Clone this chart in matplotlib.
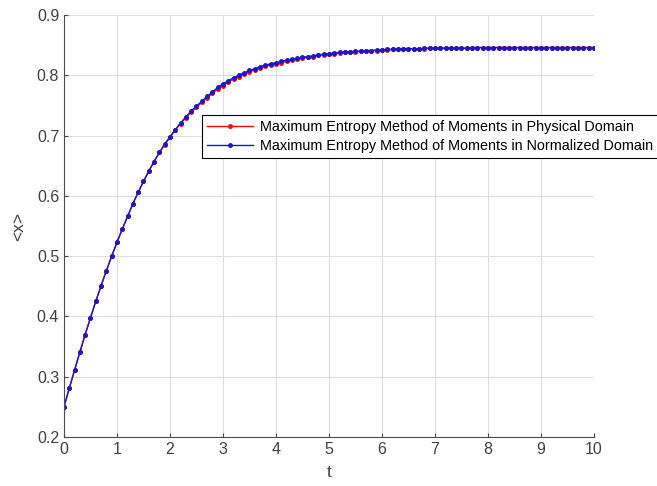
import numpy as np
import matplotlib
matplotlib.use('Agg')
import matplotlib.pyplot as plt

plt.rcParams['font.family'] = ['Liberation Sans', 'DejaVu Sans']

# time grid, step 0.1
t = np.round(np.arange(0, 10.01, 0.1), 1)

# <x> in normalized domain
x_norm = [
    0.250, 0.281, 0.311, 0.341, 0.370, 0.398, 0.425, 0.451, 0.476, 0.500,
    0.523, 0.545, 0.566, 0.587, 0.606, 0.624, 0.641, 0.657, 0.672, 0.686,
    0.698, 0.710, 0.721, 0.731, 0.741, 0.749, 0.757, 0.765, 0.772, 0.780,
    0.786, 0.791, 0.796, 0.800, 0.804, 0.808, 0.811, 0.814, 0.817, 0.819,
    0.821, 0.823, 0.825, 0.827, 0.828, 0.830, 0.831, 0.832, 0.834, 0.835,
    0.836, 0.837, 0.838, 0.838, 0.839, 0.840, 0.840, 0.841, 0.841, 0.842,
    0.842, 0.843, 0.843, 0.843, 0.844, 0.844, 0.844, 0.844, 0.845, 0.845,
    0.845, 0.845, 0.845, 0.845, 0.845, 0.845, 0.845, 0.846, 0.846, 0.846,
    0.846, 0.846, 0.846, 0.846, 0.846, 0.846, 0.846, 0.846, 0.846, 0.846,
    0.846, 0.846, 0.846, 0.846, 0.846, 0.846, 0.846, 0.846, 0.846, 0.846,
    0.846,
]

# <x> in physical domain (slightly below in the bend)
x_phys = [
    0.250, 0.281, 0.311, 0.341, 0.370, 0.398, 0.425, 0.451, 0.476, 0.500,
    0.523, 0.545, 0.566, 0.587, 0.606, 0.624, 0.641, 0.657, 0.672, 0.685,
    0.697, 0.709, 0.720, 0.730, 0.739, 0.747, 0.755, 0.763, 0.770, 0.777,
    0.783, 0.789, 0.794, 0.798, 0.802, 0.806, 0.809, 0.812, 0.815, 0.817,
    0.819, 0.821, 0.823, 0.825, 0.827, 0.828, 0.830, 0.831, 0.833, 0.834,
    0.835, 0.836, 0.837, 0.838, 0.838, 0.839, 0.840, 0.840, 0.841, 0.841,
    0.842, 0.842, 0.843, 0.843, 0.843, 0.844, 0.844, 0.844, 0.844, 0.845,
    0.845, 0.845, 0.845, 0.845, 0.845, 0.845, 0.845, 0.846, 0.846, 0.846,
    0.846, 0.846, 0.846, 0.846, 0.846, 0.846, 0.846, 0.846, 0.846, 0.846,
    0.846, 0.846, 0.846, 0.846, 0.846, 0.846, 0.846, 0.846, 0.846, 0.846,
    0.846,
]

labels = ['Maximum Entropy Method of Moments in Physical Domain',
          'Maximum Entropy Method of Moments in Normalized Domain']

fig = plt.figure(figsize=(6.57, 4.86), dpi=100)
ax = fig.add_axes([0.0974, 0.1008, 0.8067, 0.8683])

ax.plot(t, x_phys, color='r', marker='.', markersize=5, linewidth=1, label=labels[0])
ax.plot(t, x_norm, color='#1818c8', marker='.', markersize=5, linewidth=1, label=labels[1])

ax.set_xlim(0, 10)
ax.set_ylim(0.2, 0.9)
ax.set_xticks(np.arange(0, 11, 1))
ax.set_yticks(np.round(np.arange(0.2, 0.91, 0.1), 1))
ax.grid(True, color='#dedede', linewidth=0.8)
ax.set_axisbelow(True)

for s in ['top', 'right']:
    ax.spines[s].set_visible(False)
for s in ['left', 'bottom']:
    ax.spines[s].set_color('#4d4d4d')
ax.tick_params(direction='in', length=3, colors='#4d4d4d', labelsize=11.5,
               labelcolor='#404040')
ax.set_xlabel('t', fontsize=12.5, color='#404040', labelpad=6)
ax.set_ylabel('<x>', fontsize=12.5, color='#404040', labelpad=8)

leg = ax.legend(loc='upper left', bbox_to_anchor=(202 / 657, 1 - 115 / 486),
                bbox_transform=fig.transFigure, fontsize=10.4, numpoints=1,
                handlelength=3.2, handletextpad=0.5, borderpad=0.35,
                labelspacing=0.35, borderaxespad=0, fancybox=False,
                framealpha=1, edgecolor='black')
leg.get_frame().set_linewidth(0.8)

fig.savefig('out.png', dpi=100)
